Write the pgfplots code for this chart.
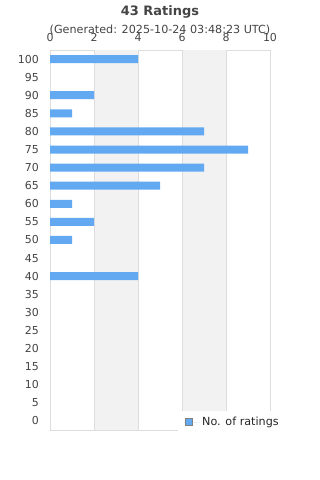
\documentclass[border=0pt]{standalone}
\usepackage{pgfplots}
\pgfplotsset{compat=1.18}
\usepackage{fontspec}
\setmainfont{DejaVu Sans}
\definecolor{barblue}{HTML}{62A9F2}
\definecolor{band}{HTML}{F2F2F2}
\definecolor{gridc}{HTML}{DDDDDD}
\definecolor{txt}{HTML}{444444}
\begin{document}
\begin{tikzpicture}
\useasboundingbox (0bp,0bp) rectangle (320bp,480bp);
\node[text=txt, font=\fontsize{13}{13}\selectfont\bfseries] at (160bp,468.5bp) {43 Ratings};
\node[text=txt, font=\fontsize{11.2}{12}\selectfont] at (160bp,450bp) {(Generated: 2025-10-24 03:48:23 UTC)};
\begin{axis}[
 at={(50bp,50bp)}, anchor=south west,
 scale only axis, width=220bp, height=380bp,
 xbar, bar width=8bp,
 xmin=0, xmax=10, ymin=-2.5, ymax=102.5,
 xtick={0,2,...,10}, ytick={0,5,...,100},
 xticklabel pos=right,
 major tick length=0,
 axis line style={gridc},
 /pgf/number format/assume math mode=true,
 tick label style={text=txt, font=\fontsize{11}{11}\selectfont, inner sep=0pt},
 xticklabel style={anchor=south, yshift=8bp},
 yticklabel style={anchor=east, xshift=-11bp},
 legend style={at={(0.582,0.05)}, anchor=north west, draw=none, fill=white,
   font=\fontsize{11.2}{12}\selectfont, text=black!85, inner xsep=6bp, inner ysep=4bp},
 legend image code/.code={\draw[fill=barblue, draw=gray] (1bp,-3.5bp) rectangle (8bp,3.5bp); \path (0bp,0bp) -- (16bp,0bp);},
]
\fill[band] (axis cs:2,-2.5) rectangle (axis cs:4,102.5);
\fill[band] (axis cs:6,-2.5) rectangle (axis cs:8,102.5);
\foreach \g in {2,4,6,8} {\edef\tmp{\noexpand\draw[gridc] (axis cs:\g,-2.5) -- (axis cs:\g,102.5);}\tmp}
\addplot[fill=barblue, draw=none] coordinates {
 (4,100) (2,90) (1,85) (7,80) (9,75) (7,70) (5,65) (1,60) (2,55) (1,50) (4,40)
};
\addlegendentry{No. of ratings}
\end{axis}
\end{tikzpicture}
\end{document}
